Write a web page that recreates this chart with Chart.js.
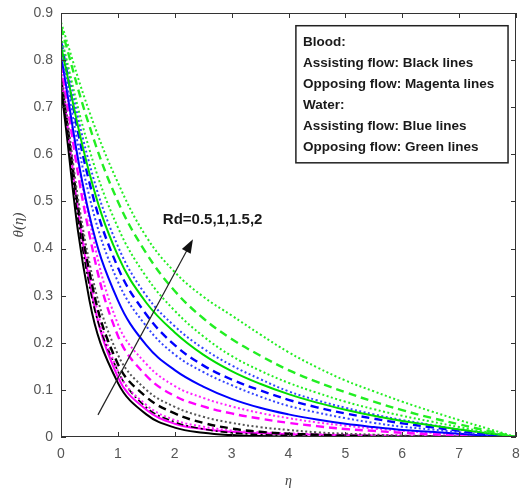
<!DOCTYPE html>
<html>
<head>
<meta charset="utf-8">
<script src="https://cdn.jsdelivr.net/npm/chart.js@4.4.1/dist/chart.umd.min.js"></script>
<style>
  html, body { margin: 0; padding: 0; background: #fff; }
  canvas { display: block; }
</style>
</head>
<body>
<canvas id="thetaChart" width="521" height="493"></canvas>
<script>
const eta = [0, 0.5, 1, 1.5, 2, 2.5, 3, 3.5, 4, 4.5, 5, 5.5, 6, 6.5, 7, 7.5, 8];

// Blood, assisting flow (black), Rd = 0.5, 1, 1.5, 2
const blackRd05 = [0.74, 0.29, 0.115, 0.048, 0.020, 0.009, 0.004, 0.002, 0.001, 0, 0, 0, 0, 0, 0, 0, 0];
const blackRd1  = [0.75, 0.32, 0.140, 0.063, 0.032, 0.017, 0.009, 0.005, 0.003, 0.002, 0.001, 0, 0, 0, 0, 0, 0];
const blackRd15 = [0.76, 0.35, 0.155, 0.085, 0.050, 0.030, 0.018, 0.011, 0.007, 0.005, 0.003, 0.002, 0.001, 0.001, 0, 0, 0];
const blackRd2  = [0.77, 0.37, 0.175, 0.100, 0.064, 0.043, 0.030, 0.021, 0.015, 0.010, 0.007, 0.005, 0.003, 0.002, 0.001, 0.001, 0];

// Blood, opposing flow (magenta)
const magentaRd05 = [0.77, 0.33, 0.127, 0.058, 0.028, 0.017, 0.011, 0.008, 0.006, 0.005, 0.004, 0.003, 0.002, 0.0015, 0.001, 0.0005, 0];
const magentaRd1  = [0.78, 0.35, 0.140, 0.068, 0.036, 0.022, 0.014, 0.010, 0.008, 0.006, 0.005, 0.004, 0.003, 0.002, 0.001, 0.0005, 0];
const magentaRd15 = [0.79, 0.43, 0.215, 0.130, 0.087, 0.065, 0.050, 0.039, 0.030, 0.023, 0.017, 0.013, 0.009, 0.006, 0.004, 0.002, 0];
const magentaRd2  = [0.80, 0.46, 0.240, 0.155, 0.108, 0.083, 0.065, 0.051, 0.040, 0.031, 0.024, 0.018, 0.013, 0.009, 0.005, 0.002, 0];

// Water, assisting flow (blue)
const blueRd05 = [0.81, 0.47, 0.29, 0.195, 0.142, 0.107, 0.081, 0.062, 0.048, 0.037, 0.028, 0.021, 0.015, 0.011, 0.007, 0.003, 0];
const blueRd1  = [0.82, 0.51, 0.33, 0.235, 0.175, 0.138, 0.110, 0.086, 0.066, 0.052, 0.040, 0.030, 0.022, 0.016, 0.010, 0.005, 0];
const blueRd15 = [0.84, 0.54, 0.36, 0.26, 0.195, 0.152, 0.122, 0.099, 0.079, 0.063, 0.050, 0.039, 0.029, 0.021, 0.013, 0.006, 0];
const blueRd2  = [0.85, 0.58, 0.405, 0.30, 0.235, 0.188, 0.152, 0.123, 0.097, 0.078, 0.062, 0.048, 0.036, 0.026, 0.016, 0.008, 0];

// Water, opposing flow (green)
const greenRd05 = [0.83, 0.56, 0.385, 0.285, 0.222, 0.175, 0.140, 0.113, 0.091, 0.073, 0.058, 0.045, 0.034, 0.025, 0.016, 0.008, 0];
const greenRd1  = [0.85, 0.61, 0.445, 0.340, 0.268, 0.214, 0.172, 0.141, 0.115, 0.094, 0.075, 0.059, 0.045, 0.033, 0.021, 0.010, 0];
const greenRd15 = [0.87, 0.66, 0.500, 0.390, 0.310, 0.252, 0.208, 0.173, 0.142, 0.117, 0.095, 0.075, 0.057, 0.041, 0.027, 0.013, 0];
const greenRd2  = [0.88, 0.69, 0.540, 0.425, 0.350, 0.298, 0.258, 0.218, 0.180, 0.148, 0.120, 0.097, 0.075, 0.055, 0.036, 0.018, 0];

const legendLines = [
    'Blood:',
    'Assisting flow: Black lines',
    'Opposing flow: Magenta lines',
    'Water:',
    'Assisting flow: Blue lines',
    'Opposing flow: Green lines',
];
const rdLabel = 'Rd=0.5,1,1.5,2';

const styles = {
    solid: { dash: [], width: 2 },
    dashdot: { dash: [7, 3, 2, 3], width: 1.6 },
    dashed: { dash: [8, 5], width: 2.4 },
    dotted: { dash: [2, 2.5], width: 2 },
};

function series(values, color, style) {
    const s = styles[style];
    return {
        data: values.map((v, i) => ({ x: eta[i], y: v })),
        borderColor: color,
        borderWidth: s.width,
        borderDash: s.dash,
        pointRadius: 0,
        fill: false,
        tension: 0.4,
    };
}

const frameAndNotes = {
    id: 'frameAndNotes',
    afterDatasetsDraw(chart) {
        const { ctx, chartArea: a, scales: { x, y } } = chart;
        ctx.save();
        ctx.strokeStyle = '#333';
        ctx.lineWidth = 1;
        ctx.strokeRect(a.left + 0.5, a.top + 0.5, a.right - a.left - 1, a.bottom - a.top - 1);
        ctx.beginPath();
        x.ticks.forEach((t) => {
            const px = Math.round(x.getPixelForValue(t.value)) + 0.5;
            ctx.moveTo(px, a.bottom); ctx.lineTo(px, a.bottom - 5);
            ctx.moveTo(px, a.top); ctx.lineTo(px, a.top + 5);
        });
        y.ticks.forEach((t) => {
            const py = Math.round(y.getPixelForValue(t.value)) + 0.5;
            ctx.moveTo(a.left, py); ctx.lineTo(a.left + 5, py);
            ctx.moveTo(a.right, py); ctx.lineTo(a.right - 5, py);
        });
        ctx.stroke();

        // legend box
        const bx0 = x.getPixelForValue(4.13), bx1 = x.getPixelForValue(7.86);
        const by0 = y.getPixelForValue(0.873), by1 = y.getPixelForValue(0.582);
        ctx.fillStyle = '#fff';
        ctx.fillRect(bx0, by0, bx1 - bx0, by1 - by0);
        ctx.strokeStyle = '#222';
        ctx.lineWidth = 1.5;
        ctx.strokeRect(bx0, by0, bx1 - bx0, by1 - by0);
        ctx.fillStyle = '#1a1a1a';
        ctx.font = 'bold 13.5px "Liberation Sans", Arial, sans-serif';
        ctx.textBaseline = 'middle';
        legendLines.forEach((txt, i) => {
            ctx.fillText(txt, bx0 + 7, by0 + 17 + i * 21);
        });

        // Rd annotation and arrow
        ctx.font = 'bold 15px "Liberation Sans", Arial, sans-serif';
        ctx.fillText(rdLabel, x.getPixelForValue(1.79), y.getPixelForValue(0.46));
        const x0 = x.getPixelForValue(0.65), y0 = y.getPixelForValue(0.047);
        const x1 = x.getPixelForValue(2.32), y1 = y.getPixelForValue(0.42);
        const ang = Math.atan2(y1 - y0, x1 - x0);
        ctx.strokeStyle = '#222';
        ctx.lineWidth = 1.2;
        ctx.beginPath();
        ctx.moveTo(x0, y0);
        ctx.lineTo(x1 - 8 * Math.cos(ang), y1 - 8 * Math.sin(ang));
        ctx.stroke();
        ctx.fillStyle = '#111';
        ctx.beginPath();
        ctx.moveTo(x1, y1);
        ctx.lineTo(x1 - 14 * Math.cos(ang) + 5 * Math.sin(ang), y1 - 14 * Math.sin(ang) - 5 * Math.cos(ang));
        ctx.lineTo(x1 - 14 * Math.cos(ang) - 5 * Math.sin(ang), y1 - 14 * Math.sin(ang) + 5 * Math.cos(ang));
        ctx.closePath();
        ctx.fill();
        ctx.restore();
    },
};

const tickFont = { family: '"Liberation Sans", Arial, sans-serif', size: 14 };

new Chart(document.getElementById('thetaChart'), {
    type: 'line',
    plugins: [frameAndNotes],
    data: {
        datasets: [
            series(greenRd2, '#22ee22', 'dotted'),
            series(greenRd15, '#22ee22', 'dashed'),
            series(greenRd1, '#22ee22', 'dotted'),
            series(greenRd05, '#00dd00', 'solid'),
            series(blueRd2, '#3344ff', 'dotted'),
            series(blueRd15, '#0000ff', 'dashed'),
            series(blueRd1, '#3344ff', 'dotted'),
            series(blueRd05, '#0000ff', 'solid'),
            series(magentaRd2, '#ff22ff', 'dotted'),
            series(magentaRd15, '#ff00ff', 'dashed'),
            series(blackRd2, '#555555', 'dotted'),
            series(blackRd15, '#000000', 'dashed'),
            series(magentaRd1, '#ff22ff', 'dotted'),
            series(blackRd1, '#000000', 'dashdot'),
            series(magentaRd05, '#ff00ff', 'solid'),
            series(blackRd05, '#000000', 'solid'),
        ],
    },
    options: {
        responsive: false,
        animation: false,
        layout: { padding: { top: 13, right: 5, left: 0, bottom: 0 } },
        plugins: { legend: { display: false }, tooltip: { enabled: false } },
        scales: {
            x: {
                type: 'linear',
                min: 0,
                max: 8,
                afterFit: (s) => { s.height = 56; s.paddingLeft = 0; s.paddingRight = 0; },
                ticks: { stepSize: 1, font: tickFont, color: '#555', padding: 9 },
                grid: { drawOnChartArea: false, drawTicks: false },
                border: { display: false },
                title: { display: true, text: 'η', font: { family: '"Liberation Serif", serif', size: 14, style: 'italic' }, color: '#444', padding: { top: 0, bottom: 3 } },
            },
            y: {
                min: 0,
                max: 0.9,
                afterFit: (s) => { s.width = 61; s.paddingTop = 0; s.paddingBottom = 0; },
                ticks: { stepSize: 0.1, font: tickFont, color: '#555', padding: 8, callback: (v) => (Math.round(v * 10) / 10).toString() },
                grid: { drawOnChartArea: false, drawTicks: false },
                border: { display: false },
                title: { display: true, text: 'θ(η)', font: { family: '"Liberation Serif", serif', size: 15, style: 'italic' }, color: '#444', padding: { top: 10, bottom: 0 } },
            },
        },
    },
});
</script>
</body>
</html>
